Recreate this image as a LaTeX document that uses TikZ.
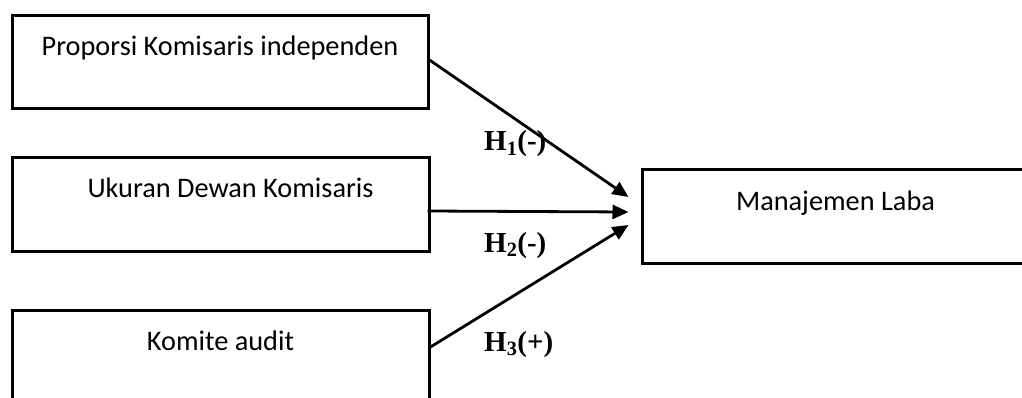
\documentclass[tikz,border=0pt]{standalone}
\usepackage{fontspec}
\setmainfont{Carlito}
\newfontfamily\hypfont{Liberation Serif}
\usetikzlibrary{arrows.meta}

\tikzset{
  varbox/.style={draw=black, line width=3pt, rectangle, inner sep=0pt,
                 minimum height=93pt},
  boxtext/.style={anchor=base, inner sep=0pt,
                  font=\fontsize{28.3}{34}\selectfont},
  hyp/.style={anchor=base west, inner sep=0pt,
              font=\hypfont\bfseries\fontsize{29}{34}\selectfont},
  link/.style={line width=2.8pt, -{Triangle[length=16pt,width=14pt]}}
}

\begin{document}
\begin{tikzpicture}[x=1pt,y=-1pt]
  \useasboundingbox (0,0) rectangle (1022,398);
  \clip (0,0) rectangle (1022,398);

  % independent variables (left column)
  \node[varbox, minimum width=416pt] (b1) at (220,62.5) {};
  \node[varbox, minimum width=417pt] (b2) at (220.5,204.5) {};
  \node[varbox, minimum width=417pt] (b3) at (220.5,356.5) {};
  % dependent variable
  \node[varbox, minimum width=387pt] (b4) at (835.5,216.5) {};

  \node[boxtext] (t1) at ([yshift=-41pt]b1.north) {Proporsi Komisaris independen};
  \node[boxtext] (t2) at ([xshift=10pt,yshift=-41pt]b2.north) {Ukuran Dewan Komisaris};
  \node[boxtext] (t3) at ([yshift=-42pt]b3.north) {Komite audit};
  \node[boxtext] (t4) at ([yshift=-42pt]b4.north) {Manajemen Laba};

  % arrow targets just left of the dependent box
  \coordinate (e1) at ([xshift=-12pt,yshift=19.5pt]b4.west);
  \coordinate (e2) at ([xshift=-12pt,yshift=4.5pt]b4.west);
  \coordinate (e3) at ([xshift=-12pt,yshift=-8.5pt]b4.west);

  \draw[link] ([yshift=2.5pt]b1.east) -- (e1);
  \draw[link] ([xshift=-3pt,yshift=-6.5pt]b2.east) -- (e2);
  \draw[link] ([yshift=9.5pt]b3.east) -- (e3);

  % hypothesis labels
  \node[hyp] (h1) at (484,151) {H\textsubscript{1}(-)};
  \node[hyp] (h2) at (484,252) {H\textsubscript{2}(-)};
  \node[hyp] (h3) at (484,351) {H\textsubscript{3}(+)};
\end{tikzpicture}
\end{document}
